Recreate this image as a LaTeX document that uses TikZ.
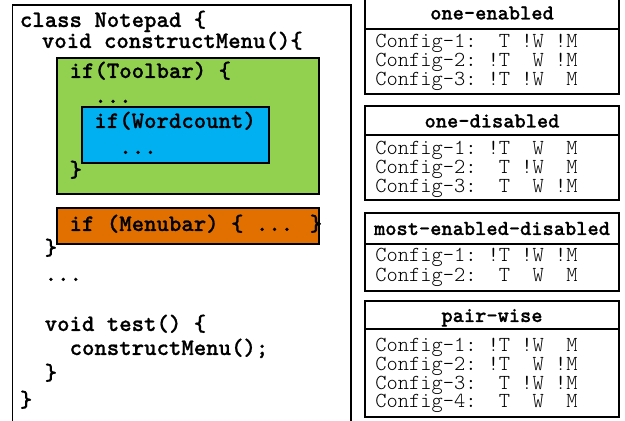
\documentclass[tikz,border=0pt]{standalone}
\usepackage{fontspec}
\newfontfamily\lightmono{Latin Modern Mono Light}
\newfontfamily\codemono{lmmonolt10-bold.otf}[FakeBold=0.8]
\definecolor{toolgreen}{RGB}{146,208,80}
\definecolor{wordblue}{RGB}{0,176,240}
\definecolor{menuorange}{RGB}{226,112,0}

\begin{document}
\begin{tikzpicture}[x=0.5pt,y=-0.5pt,
    code/.style={anchor=base west,inner sep=0pt,font=\codemono\fontsize{11.83}{13}\selectfont},
    row/.style={anchor=base west,inner sep=0pt,font=\lightmono\fontsize{10.7}{12}\selectfont},
    head/.style={anchor=base,inner sep=0pt,font=\codemono\fontsize{10.7}{12}\selectfont},
    frame/.style={draw,line width=0.65pt}]

\useasboundingbox (0,0) rectangle (625,421);

% code panel
\draw[frame] (12.7,430) -- (12.7,5) -- (351,5) -- (351,430);
\draw[frame,fill=toolgreen] (57,58) rectangle (319,194);
\draw[frame,fill=wordblue] (82,107) rectangle (269,163);
\draw[frame,fill=menuorange] (57,208) rectangle (319,244);

\node[code] (cls) at (19.5,27) {class Notepad \{};
\node[code] (menu) at (41.5,48) {void constructMenu()\{};
\node[code] (tool) at (69.2,78) {if(Toolbar) \{};
\node[code] (tooldots) at (94,103) {...};
\node[code] (word) at (94,128) {if(Wordcount)};
\node[code] (worddots) at (119,154) {...};
\node[code] (toolend) at (69.2,177) {\}};
\node[code] (bar) at (69.2,231) {if (Menubar) \{ ... \}};
\node[code] (menuend) at (44.3,255) {\}};
\node[code] (dots) at (44.3,281) {...};
\node[code] (test) at (44.3,331) {void test() \{};
\node[code] (call) at (69.2,355) {constructMenu();};
\node[code] (testend) at (44.3,380) {\}};
\node[code] (clsend) at (19.5,407) {\}};

% one-enabled
\draw[frame] (365,-1) rectangle (619,94);
\draw[frame] (365,29) -- (619,29);
\node[head] (oneen) at (492,19.5) {one-enabled};
\node[row] (oneen1) at (375,48) {Config-1:~~T~!W~!M};
\node[row] (oneen2) at (375,67) {Config-2:~!T~~W~!M};
\node[row] (oneen3) at (375,85.5) {Config-3:~!T~!W~~M};

% one-disabled
\draw[frame] (365,106) rectangle (619,200);
\draw[frame] (365,135) -- (619,135);
\node[head] (onedis) at (492,127.5) {one-disabled};
\node[row] (onedis1) at (375,154.5) {Config-1:~!T~~W~~M};
\node[row] (onedis2) at (375,173.5) {Config-2:~~T~!W~~M};
\node[row] (onedis3) at (375,192.5) {Config-3:~~T~~W~!M};

% most-enabled-disabled
\draw[frame] (365,213) rectangle (619,291);
\draw[frame] (365,244) -- (619,244);
\node[head] (most) at (492,235) {most-enabled-disabled};
\node[row] (most1) at (375,262) {Config-1:~!T~!W~!M};
\node[row] (most2) at (375,281.5) {Config-2:~~T~~W~~M};

% pair-wise
\draw[frame] (365,301) rectangle (619,417);
\draw[frame] (365,329) -- (619,329);
\node[head] (pair) at (492,322) {pair-wise};
\node[row] (pair1) at (375,352) {Config-1:~!T~!W~~M};
\node[row] (pair2) at (375,370.5) {Config-2:~!T~~W~!M};
\node[row] (pair3) at (375,389) {Config-3:~~T~!W~!M};
\node[row] (pair4) at (375,407.5) {Config-4:~~T~~W~~M};
\end{tikzpicture}
\end{document}
